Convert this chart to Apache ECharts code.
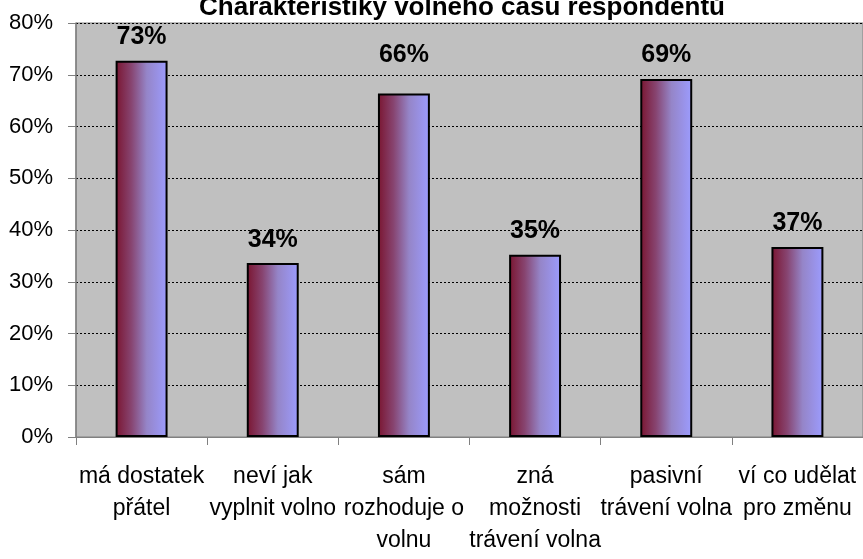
<!DOCTYPE html>
<html><head><meta charset="utf-8">
<script src="https://cdn.jsdelivr.net/npm/echarts@6/dist/echarts.min.js"></script>
<style>html,body{margin:0;padding:0;background:#fff}#c{width:863px;height:559px}</style>
</head><body><div id="c"></div>
<script>
const titleText = 'Charakteristiky volného času respondentů';
const categories = ['má dostatek\npřátel', 'neví jak\nvyplnit volno', 'sám\nrozhoduje o\nvolnu', 'zná\nmožnosti\ntrávení volna', 'pasivní\ntrávení volna', 'ví co udělat\npro změnu'];
const values = [0.727, 0.336, 0.664, 0.352, 0.692, 0.367];
const yTicks = [0, 0.1, 0.2, 0.3, 0.4, 0.5, 0.6, 0.7, 0.8];
const F = '"Liberation Sans", Arial, sans-serif';

const chart = echarts.init(document.getElementById('c'));
chart.setOption({
  animation: false,
  title: {
    text: titleText, left: 457, textAlign: 'center', top: -10,
    textStyle: {fontFamily: F, fontSize: 26, fontWeight: 'bold', color: '#000'}
  },
  grid: {left: 76, right: 0, top: 23, bottom: 122, outerBoundsMode: 'none', containLabel: false,
    show: true, backgroundColor: '#C0C0C0', borderColor: '#808080', borderWidth: 1},
  xAxis: {
    type: 'category', data: categories,
    axisLine: {lineStyle: {color: '#808080', width: 1}},
    axisTick: {show: true, length: 8, lineStyle: {color: '#808080'}},
    axisLabel: {margin: 24, interval: 0, color: '#000', fontFamily: F, fontSize: 23, lineHeight: 32}
  },
  yAxis: {
    type: 'value', min: 0, max: 0.8, interval: 0.1,
    axisLine: {show: true, lineStyle: {color: '#808080', width: 1.5}},
    axisTick: {show: true, length: 8, lineStyle: {color: '#808080'}},
    axisLabel: {margin: 23, color: '#000', fontFamily: F, fontSize: 22,
      formatter: v => Math.round(v * 100) + '%'},
    splitLine: {show: true, lineStyle: {color: '#000', type: [2, 2], width: 1}}
  },
  series: [{
    type: 'bar',
    data: values.map((v, i) => i === 2 ? {value: v, label: {distance: 26}} : v),
    barWidth: '39.6%',
    itemStyle: {
      borderColor: '#000', borderWidth: 2,
      color: new echarts.graphic.LinearGradient(0, 0, 1, 0, [
        {offset: 0, color: '#7a1530'},
        {offset: 0.3, color: '#874470'},
        {offset: 0.6, color: '#9585c8'},
        {offset: 1, color: '#9c9cff'}
      ])
    },
    label: {show: true, position: 'top', distance: 11, color: '#000', fontFamily: F, fontSize: 25, fontWeight: 'bold',
      formatter: p => Math.round(p.value * 100) + '%'}
  }]
});
</script></body></html>
